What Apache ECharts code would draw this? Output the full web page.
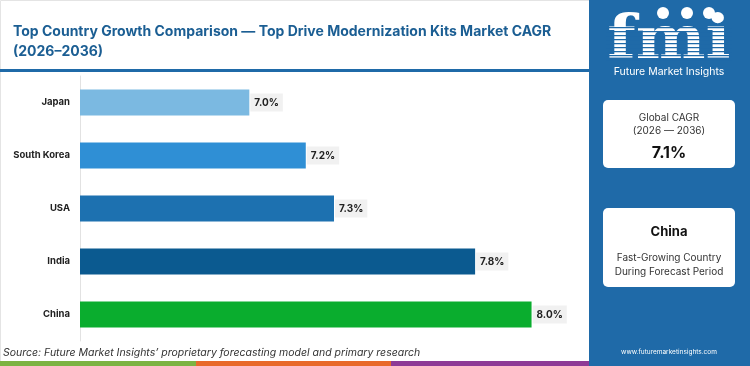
<!DOCTYPE html>
<html>
<head>
<meta charset="utf-8">
<script src="https://cdn.jsdelivr.net/npm/echarts@6/dist/echarts.min.js"></script>
<style>
  html, body { margin: 0; padding: 0; background: #fff; }
  #chart { width: 750px; height: 366px; }
</style>
</head>
<body>
<div id="chart"></div>
<script>
// CAGR by country, top to bottom as drawn
const countries = ["Japan", "South Korea", "USA", "India", "China"];
const cagr = [7.0, 7.2, 7.3, 7.8, 8.0];
const barColors = ["#7bb9e1", "#2f8fd5", "#1d71b0", "#0b5a90", "#0aad2e"];
const globalCagr = "7.1%";
const leader = "China";

const PANEL = "#1f6aa8", FONT = "Inter, 'Open Sans', sans-serif";

const chart = echarts.init(document.getElementById("chart"));
chart.setOption({
  animation: false,
  title: {
    text: "Top Country Growth Comparison \u2014 Top Drive Modernization Kits Market CAGR\n(2026\u20132036)",
    left: 8, top: 17,
    textStyle: { color: "#1b5e93", fontSize: 14, fontWeight: 700, fontFamily: FONT, lineHeight: 20 }
  },
  grid: { left: 80, right: 162, top: 76, bottom: 25 },
  xAxis: { type: "value", min: 6.4, max: 8.2, show: false },
  yAxis: {
    type: "category", data: countries, inverse: true,
    axisLine: { lineStyle: { color: "#e2e2e2" } },
    axisTick: { length: 3, lineStyle: { color: "#d0d0d0" } },
    axisLabel: { color: "#222", fontSize: 9.5, fontWeight: 700, fontFamily: FONT, margin: 10 }
  },
  series: [{
    type: "bar", barWidth: 26,
    data: cagr.map((v, i) => ({ value: v, itemStyle: { color: barColors[i] } })),
    label: {
      show: true, position: "right", distance: 1,
      formatter: (p) => p.value.toFixed(1) + "%",
      color: "#222", fontSize: 10, fontWeight: 700, fontFamily: FONT,
      backgroundColor: "#f1f1f1", padding: [4, 4]
    }
  }],
  graphic: [
    // frame + title rule
    { type: "rect", shape: { x: 0.5, y: 0.5, width: 749, height: 365 }, style: { fill: "none", stroke: "#e4e4e4" }, silent: true },
    { type: "rect", shape: { x: 0, y: 69, width: 589, height: 3 }, style: { fill: PANEL } },
    // source + colour strip
    { type: "text", left: 3, top: 347, style: { text: "Source: Future Market Insights\u2019 proprietary forecasting model and primary research",
      fill: "#333", font: "italic 10.5px " + FONT } },
    { type: "rect", shape: { x: 0, y: 361, width: 196, height: 5 }, style: { fill: "#7cb342" } },
    { type: "rect", shape: { x: 196, y: 361, width: 195, height: 5 }, style: { fill: "#e8692a" } },
    { type: "rect", shape: { x: 391, y: 361, width: 198, height: 5 }, style: { fill: "#8e3a96" } },
    // right panel + logo
    { type: "rect", shape: { x: 589, y: 0, width: 161, height: 366 }, style: { fill: PANEL } },
    { type: "text", x: 669, y: 42, scaleX: 1.1, originX: 0, originY: 0,
      style: { text: "fmi", fill: "#fff", font: "bold 60px 'DejaVu Serif', serif", align: "center", verticalAlign: "middle" } },
    ...[0, 1, 2, 3, 4, 5, 6, 7, 8].map((k) => ({ type: "rect", shape: { x: 606, y: 27 + k * 4, width: 126, height: 1.2 }, style: { fill: PANEL } })),
    { type: "circle", shape: { cx: 663, cy: 13, r: 6 }, style: { fill: "#fff" } },
    { type: "circle", shape: { cx: 687, cy: 13, r: 6 }, style: { fill: "#fff" } },
    { type: "circle", shape: { cx: 709, cy: 13, r: 6 }, style: { fill: "#fff" } },
    { type: "text", x: 669, y: 72, style: { text: "Future Market Insights", fill: "#fff", font: "10.5px " + FONT, align: "center", verticalAlign: "middle" } },
    // cards
    { type: "rect", shape: { x: 603, y: 100, width: 132, height: 68, r: 5 }, style: { fill: "#fff" } },
    { type: "text", x: 669, y: 118, style: { text: "Global CAGR", fill: "#333", font: "10px " + FONT, align: "center", verticalAlign: "middle" } },
    { type: "text", x: 669, y: 131, style: { text: "(2026 \u2014 2036)", fill: "#333", font: "10px " + FONT, align: "center", verticalAlign: "middle" } },
    { type: "text", x: 669, y: 153, style: { text: globalCagr, fill: "#111", font: "bold 16px " + FONT, align: "center", verticalAlign: "middle" } },
    { type: "rect", shape: { x: 603, y: 208, width: 132, height: 79, r: 5 }, style: { fill: "#fff" } },
    { type: "text", x: 669, y: 232, style: { text: leader, fill: "#111", font: "bold 13px " + FONT, align: "center", verticalAlign: "middle" } },
    { type: "text", x: 669, y: 258, style: { text: "Fast-Growing Country", fill: "#333", font: "10px " + FONT, align: "center", verticalAlign: "middle" } },
    { type: "text", x: 669, y: 272, style: { text: "During Forecast Period", fill: "#333", font: "10px " + FONT, align: "center", verticalAlign: "middle" } },
    { type: "text", x: 669, y: 352, style: { text: "www.futuremarketinsights.com", fill: "#fff", font: "6.5px " + FONT, align: "center", verticalAlign: "middle" } }
  ]
});
</script>
</body>
</html>
